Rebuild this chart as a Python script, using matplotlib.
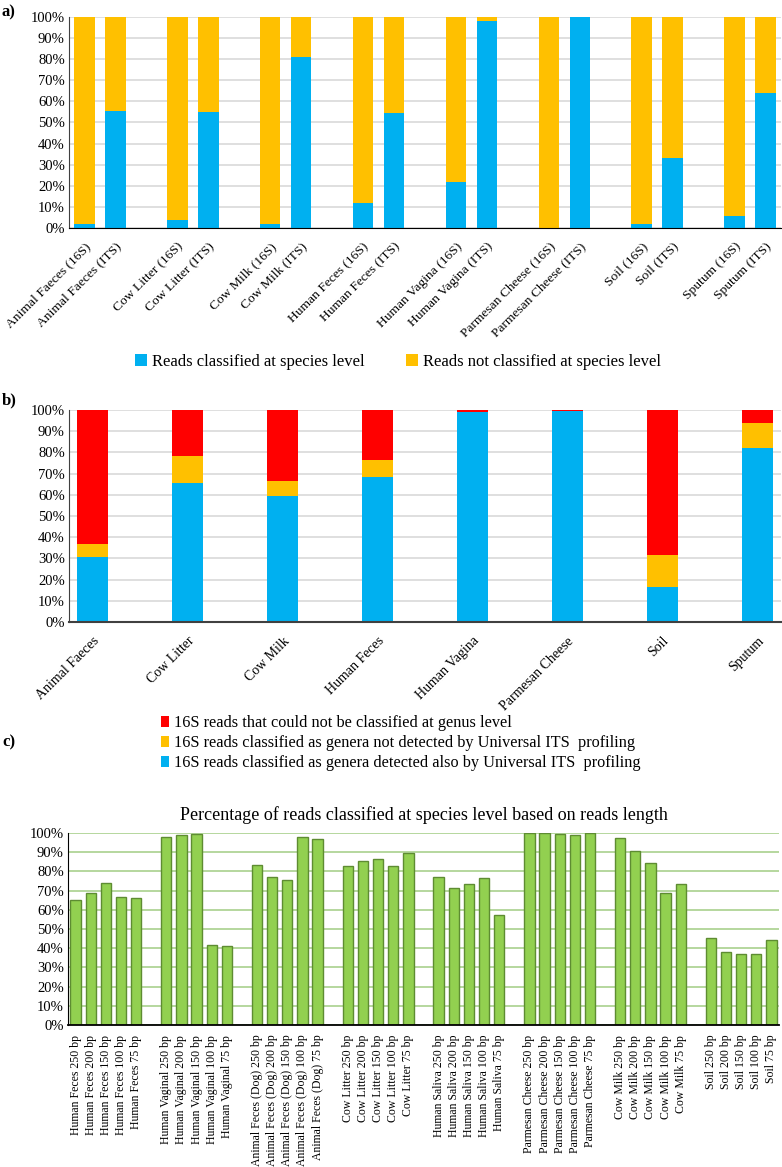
import matplotlib.pyplot as plt
import numpy as np
from matplotlib.ticker import FuncFormatter

plt.rcParams['font.family'] = ['Liberation Serif', 'DejaVu Serif']

BLUE = '#00B0F0'
YELLOW = '#FFC000'
RED = '#FF0000'
GREEN = '#92D050'
GREEN_EDGE = '#5E8C32'

# ---- panel a data ----
a_labels = ['Animal Faeces (16S)', 'Animal Faeces (ITS)', 'Cow Litter (16S)', 'Cow Litter (ITS)',
            'Cow Milk (16S)', 'Cow Milk (ITS)', 'Human Feces (16S)', 'Human Feces (ITS)',
            'Human Vagina (16S)', 'Human Vagina (ITS)', 'Parmesan Cheese (16S)', 'Parmesan Cheese (ITS)',
            'Soil (16S)', 'Soil (ITS)', 'Sputum (16S)', 'Sputum (ITS)']
a_species = [2, 55.5, 4, 55, 2, 81, 12, 54.5, 22, 98.3, 0, 99.8, 2, 33.2, 5.5, 63.8]
a_not_species = [100 - v for v in a_species]

# ---- panel b data ----
b_labels = ['Animal Faeces', 'Cow Litter', 'Cow Milk', 'Human Feces',
            'Human Vagina', 'Parmesan Cheese', 'Soil', 'Sputum']
b_detected = [30.8, 65.7, 59.4, 68.5, 99.0, 99.5, 16.5, 81.9]
b_not_detected = [6.0, 12.7, 7.1, 7.7, 0.1, 0.0, 15.1, 12.0]
b_unclassified = [100 - d - n for d, n in zip(b_detected, b_not_detected)]

# ---- panel c data ----
c_samples = ['Human Feces', 'Human Vaginal', 'Animal Feces (Dog)', 'Cow Litter',
             'Human Saliva', 'Parmesan Cheese', 'Cow Milk', 'Soil']
c_lengths = ['250 bp', '200 bp', '150 bp', '100 bp', '75 bp']
c_values = [
    [65.0, 68.5, 74.2, 66.6, 66.4],
    [97.7, 99.2, 99.5, 41.9, 40.9],
    [83.4, 77.0, 75.4, 98.0, 97.1],
    [82.7, 85.5, 86.2, 83.0, 89.8],
    [77.1, 71.1, 73.3, 76.8, 57.2],
    [99.9, 99.9, 99.3, 99.2, 99.9],
    [97.3, 90.8, 84.6, 68.5, 73.3],
    [45.4, 37.9, 37.2, 37.2, 44.4],
]

pct = FuncFormatter(lambda v, _: f'{v:.0f}%')

fig = plt.figure(figsize=(7.82, 11.67), dpi=100)
W, H = 782, 1167


def axes_px(left, top, right, bottom):
    return fig.add_axes([left / W, 1 - bottom / H, (right - left) / W, (bottom - top) / H])


def style_pct_axis(ax, grid_color, size):
    ax.set_ylim(0, 100)
    ax.set_yticks(np.arange(0, 101, 10))
    ax.yaxis.set_major_formatter(pct)
    ax.grid(axis='y', color=grid_color, linewidth=1.2, zorder=0)
    ax.set_axisbelow(True)
    for s in ['top', 'right']:
        ax.spines[s].set_visible(False)
    ax.spines['bottom'].set_color('black')
    ax.spines['left'].set_color('#404040')
    ax.tick_params(length=0, labelsize=size, pad=3)


# ---------------- panel a ----------------
ax_a = axes_px(69, 17, 781, 228)
xa = []
for g in range(8):
    xa += [3 * g, 3 * g + 1]
xa = np.array(xa)
ax_a.bar(xa, a_species, width=0.66, color=BLUE, label='Reads classified at species level', zorder=2)
ax_a.bar(xa, a_not_species, bottom=a_species, width=0.66, color=YELLOW,
         label='Reads not classified at species level', zorder=2)
ax_a.set_xlim(-0.5, 22.5)
style_pct_axis(ax_a, '#D9D9D9', 10.5)
ax_a.set_xticks(xa)
ax_a.set_xticklabels(a_labels, rotation=45, ha='right', rotation_mode='anchor', fontsize=9.7)
ax_a.tick_params(axis='x', pad=9)
ha, la = ax_a.get_legend_handles_labels()
fig.legend(ha, la, loc='center', bbox_to_anchor=(398 / W, 1 - 362 / H), ncol=2, frameon=False,
           fontsize=12, handlelength=0.7, handleheight=0.7, handletextpad=0.3, columnspacing=2.5)
fig.text(2 / W, 1 - 12 / H, 'a)', fontsize=12, fontweight='bold', va='center')

# ---------------- panel b ----------------
ax_b = axes_px(69, 410, 781, 622)
xb = np.arange(len(b_labels))
bot2 = [d + n for d, n in zip(b_detected, b_not_detected)]
hb1 = ax_b.bar(xb, b_detected, width=0.33, color=BLUE, zorder=2)
hb2 = ax_b.bar(xb, b_not_detected, bottom=b_detected, width=0.33, color=YELLOW, zorder=2)
hb3 = ax_b.bar(xb, b_unclassified, bottom=bot2, width=0.33, color=RED, zorder=2)
ax_b.set_xlim(-0.25, 7.25)
style_pct_axis(ax_b, '#D9D9D9', 10.5)
ax_b.spines['bottom'].set_color('#404040')
ax_b.spines['bottom'].set_linewidth(1.5)
ax_b.set_xticks(xb)
ax_b.set_xticklabels(b_labels, rotation=45, ha='right', rotation_mode='anchor', fontsize=10)
ax_b.tick_params(axis='x', pad=9)
fig.legend([hb3, hb2, hb1],
           ['16S reads that could not be classified at genus level',
            '16S reads classified as genera not detected by Universal ITS  profiling',
            '16S reads classified as genera detected also by Universal ITS  profiling'],
           loc='center left', bbox_to_anchor=(146 / W, 1 - 743 / H), frameon=False, fontsize=11.7,
           handlelength=0.5, handleheight=0.7, handletextpad=0.3, labelspacing=0.25)
fig.text(2 / W, 1 - 400 / H, 'b)', fontsize=12, fontweight='bold', va='center')

# ---------------- panel c ----------------
ax_c = axes_px(68, 833, 779, 1025)
xc, vals, labs = [], [], []
for g, name in enumerate(c_samples):
    for i, ln in enumerate(c_lengths):
        xc.append(6 * g + i)
        vals.append(c_values[g][i])
        labs.append(f'{name} {ln}')
ax_c.bar(xc, vals, width=0.68, color=GREEN, edgecolor=GREEN_EDGE, linewidth=1.0, zorder=2)
ax_c.set_xlim(-0.5, 46.5)
style_pct_axis(ax_c, '#A9D18E', 10.5)
ax_c.spines['left'].set_color('black')
ax_c.spines['bottom'].set_linewidth(1.3)
ax_c.set_xticks(xc)
ax_c.set_xticklabels(labs, rotation=90, fontsize=8.5)
ax_c.tick_params(axis='x', pad=7)
ax_c.set_title('Percentage of reads classified at species level based on reads length',
               fontsize=13, pad=9)
fig.text(2 / W, 1 - 742 / H, 'c)', fontsize=12, fontweight='bold', va='center')

fig.savefig('out.png', dpi=100)
